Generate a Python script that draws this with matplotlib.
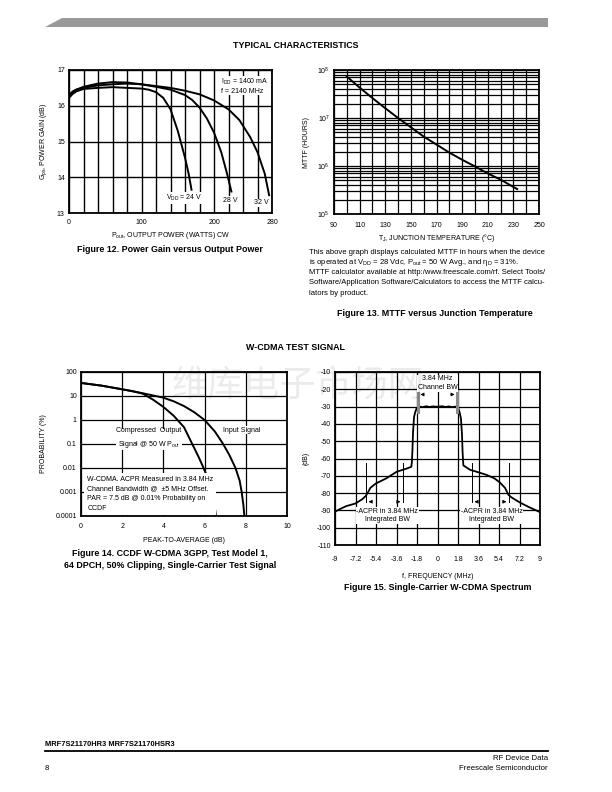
import numpy as np
import matplotlib.pyplot as plt
from matplotlib.patches import Polygon
from matplotlib.lines import Line2D
from matplotlib.ticker import MultipleLocator, FixedLocator

plt.rcParams['font.family'] = ['Liberation Sans Narrow', 'Liberation Sans', 'DejaVu Sans']
plt.rcParams['mathtext.fontset'] = 'custom'
plt.rcParams['mathtext.rm'] = 'Liberation Sans'
plt.rcParams['mathtext.default'] = 'regular'
plt.rcParams['axes.unicode_minus'] = False

# Figure 12 - power gain vs output power
p24 = [0, 5, 10, 20, 40, 60, 80, 100, 110, 120, 130, 140, 150, 160, 165, 169]
g24 = [16.22, 16.33, 16.40, 16.47, 16.50, 16.52, 16.50, 16.48, 16.45, 16.38, 16.22, 15.90, 15.30, 14.55, 14.10, 13.65]
p28 = [0, 5, 10, 20, 40, 60, 80, 100, 120, 140, 160, 170, 180, 190, 200, 210, 218, 224]
g28 = [16.25, 16.38, 16.45, 16.53, 16.62, 16.66, 16.65, 16.60, 16.53, 16.45, 16.30, 16.16, 15.95, 15.65, 15.25, 14.70, 14.10, 13.60]
p32 = [0, 5, 10, 20, 40, 60, 80, 100, 120, 140, 160, 180, 200, 220, 235, 250, 260, 270, 276]
g32 = [16.30, 16.40, 16.45, 16.50, 16.57, 16.60, 16.62, 16.60, 16.55, 16.50, 16.42, 16.32, 16.15, 15.90, 15.60, 15.12, 14.70, 14.10, 13.50]

# Figure 13 - MTTF vs junction temperature
tj = [100, 110, 120, 130, 140, 150, 160, 170, 180, 190, 200, 210, 220, 233]
mttf = [7.3e7, 4.3e7, 2.6e7, 1.6e7, 1.0e7, 6.4e6, 4.1e6, 2.8e6, 1.9e6, 1.35e6, 9.8e5, 7.0e5, 5.2e5, 3.3e5]
tj_ticks = [90, 110, 130, 150, 170, 190, 210, 230, 250]

# Figure 14 - CCDF
par_in = [0, 1, 2, 3, 4, 4.5, 5, 5.5, 6, 6.5, 6.9, 7.2, 7.5, 7.7, 7.8, 7.88, 7.93]
prob_in = [35, 27, 19, 13, 8.5, 6, 3.8, 2.1, 1.0, 0.33, 0.1, 0.035, 0.01, 0.003, 0.001, 0.0003, 0.0001]
par_out = [0, 1, 2, 2.5, 3, 3.5, 4, 4.5, 5, 5.4, 5.7, 5.95, 6.2, 6.36, 6.48, 6.55]
prob_out = [35, 27, 19, 16, 12.5, 7, 3.5, 1.5, 0.5, 0.1, 0.03, 0.01, 0.003, 0.001, 0.0003, 0.0001]
prob_ticks = [1e-4, 1e-3, 1e-2, 0.1, 1, 10, 100]
prob_labels = ['0.0001', '0.001', '0.01', '0.1', '1', '10', '100']

# Figure 15 - spectrum
freq = [-9.0, -8.5, -8.0, -7.2, -6.6, -6.3, -6.1, -5.9, -5.6, -5.4, -4.5, -3.6, -2.7, -2.3, -2.25, -2.2, -2.15, -2.06,
        -1.95, -1.83, -1.62, -1.3, -1.0, -0.7, -0.4, 0.0, 0.4, 0.7, 1.0, 1.3, 1.62, 1.83, 1.95, 2.06, 2.15, 2.2, 2.27,
        2.85, 3.6, 4.32, 5.0, 5.5, 5.93, 6.23, 6.5, 7.25, 8.0, 8.5, 9.0]
level = [-90.8, -89.0, -87.5, -86.0, -83.5, -81.7, -79.5, -77.0, -75.4, -74.4, -71.5, -67.7, -65.8, -64.8, -62.0, -55.0,
         -45.0, -36.0, -33.0, -31.0, -30.0, -30.3, -29.8, -30.2, -29.9, -30.1, -29.8, -30.2, -29.9, -30.3, -30.0, -31.0,
         -33.5, -37.0, -46.0, -56.0, -64.0, -66.5, -68.0, -69.5, -71.5, -74.0, -77.0, -81.0, -82.5, -85.5, -88.0, -89.5, -91.0]
freq_ticks = [-9, -7.2, -5.4, -3.6, -1.8, 0, 1.8, 3.6, 5.4, 7.2, 9]
freq_labels = ['-9', '-7.2', '-5.4', '-3.6', '-1.8', '0', '1.8', '3.6', '5.4', '7.2', '9']
chan_edges = [-1.75, 1.75]
acpr_edges = [-6.3, -3.0, 3.0, 6.3]

W, H = 612, 792
fig = plt.figure(figsize=(W / 100, H / 100), dpi=100)


def box(x0, y0, x1, y1):
    return [x0 / W, 1 - y1 / H, (x1 - x0) / W, (y1 - y0) / H]


def ptext(x, y, s, **kw):
    kw.setdefault('ha', 'center')
    kw.setdefault('va', 'center')
    fig.text(x / W, 1 - y / H, s, **kw)


def style(ax, xpad=3):
    for sp in ax.spines.values():
        sp.set_linewidth(1.3)
    ax.tick_params(which='both', length=0, labelsize=5, pad=3)
    ax.tick_params(axis='x', pad=xpad)
    ax.set_axisbelow(True)


wb = dict(fc='white', ec='none', pad=0.6)
cap = dict(fontsize=6.4, fontweight='bold', family=['Liberation Sans', 'DejaVu Sans'])

# page decorations
fig.patches.append(Polygon([[45 / W, 1 - 27 / H], [62 / W, 1 - 18 / H], [548 / W, 1 - 18 / H], [548 / W, 1 - 27 / H]],
                           closed=True, fc='#999999', ec='none', transform=fig.transFigure))
ptext(296, 46, 'TYPICAL CHARACTERISTICS', **cap)
ptext(296, 347, 'W-CDMA TEST SIGNAL', **cap)
ptext(298, 386, '维库电子市场网', fontsize=26, color='black', alpha=0.08,
      family=['Noto Sans CJK SC', 'DejaVu Sans'], fontweight='light')

# ---- Figure 12
ax = fig.add_axes(box(69, 70, 272, 213))
style(ax, xpad=4)
ax.plot(p24, g24, 'k', lw=1.4)
ax.plot(p28, g28, 'k', lw=1.4)
ax.plot(p32, g32, 'k', lw=1.4)
ax.set_xlim(0, 280)
ax.set_ylim(13, 17)
ax.xaxis.set_major_locator(FixedLocator([0, 100, 200, 280]))
ax.xaxis.set_minor_locator(MultipleLocator(20))
ax.yaxis.set_major_locator(MultipleLocator(1))
ax.grid(which='both', axis='x', color='black', lw=1.0)
ax.grid(which='major', axis='y', color='black', lw=1.0)
ax.text(209, 16.67, 'I$_{DD}$ = 1400 mA', fontsize=5, va='center', bbox=wb)
ax.text(209, 16.41, 'f = 2140 MHz', fontsize=5, va='center', bbox=wb)
ax.text(159, 13.42, 'V$_{DD}$ = 24 V', fontsize=5, ha='center', va='center', bbox=wb)
ax.text(222, 13.36, '28 V', fontsize=5, ha='center', va='center', bbox=wb)
ax.text(265, 13.28, '32 V', fontsize=5, ha='center', va='center', bbox=wb)
ax.set_xlabel('P$_{out}$, OUTPUT POWER (WATTS) CW', fontsize=5, labelpad=3)
ax.set_ylabel('G$_{ps}$, POWER GAIN (dB)', fontsize=5, labelpad=6)
ptext(170, 249, 'Figure 12. Power Gain versus Output Power', **cap)

# ---- Figure 13
ax = fig.add_axes(box(334, 70, 539, 214))
style(ax, xpad=6)
ax.semilogy(tj, mttf, 'k', lw=1.4)
ax.set_xlim(90, 250)
ax.set_ylim(1e5, 1e8)
ax.xaxis.set_major_locator(FixedLocator(tj_ticks))
ax.xaxis.set_minor_locator(MultipleLocator(10))
ax.grid(which='both', color='black', lw=0.9)
ax.set_xlabel('T$_J$, JUNCTION TEMPERATURE (°C)', fontsize=5, labelpad=2)
ax.set_ylabel('MTTF (HOURS)', fontsize=5, labelpad=5)
notes = ['This above graph displays calculated MTTF in hours when the device',
         'is operated at V$_{DD}$ = 28 Vdc, P$_{out}$ = 50 W Avg., and η$_D$ = 31%.',
         'MTTF calculator available at http:/www.freescale.com/rf. Select Tools/',
         'Software/Application Software/Calculators to access the MTTF calcu-',
         'lators by product.']
for s, yy in zip(notes, [252, 262, 273, 283, 293]):
    ptext(309, yy, s, fontsize=5.5, ha='left')
ptext(435, 313, 'Figure 13. MTTF versus Junction Temperature', **cap)

# ---- Figure 14
ax = fig.add_axes(box(81, 372, 287, 516))
style(ax, xpad=5)
ax.semilogy(par_in, prob_in, 'k', lw=1.4)
ax.semilogy(par_out, prob_out, 'k', lw=1.4)
ax.set_xlim(0, 10)
ax.set_ylim(1e-4, 100)
ax.xaxis.set_major_locator(MultipleLocator(2))
ax.set_yticks(prob_ticks, prob_labels)
ax.yaxis.set_minor_locator(FixedLocator([]))
ax.grid(which='major', color='black', lw=0.9)
ax.text(3.3, 0.17, 'Compressed  Output\nSignal @ 50 W P$_{out}$', fontsize=5, ha='center', va='center',
        linespacing=1.6, bbox=wb)
ax.text(7.8, 0.38, 'Input Signal', fontsize=5, ha='center', va='center', bbox=wb)
ax.text(0.3, 0.00082, 'W-CDMA. ACPR Measured in 3.84 MHz\nChannel Bandwidth @  ±5 MHz Offset.\n'
        'PAR = 7.5 dB @ 0.01% Probability on\nCCDF', fontsize=5, ha='left', va='center',
        linespacing=1.55, bbox=dict(fc='white', ec='none', pad=2))
ax.set_xlabel('PEAK-TO-AVERAGE (dB)', fontsize=5, labelpad=5)
ax.set_ylabel('PROBABILITY (%)', fontsize=5, labelpad=6)
ptext(170, 553, 'Figure 14. CCDF W-CDMA 3GPP, Test Model 1,', **cap)
ptext(170, 565, '64 DPCH, 50% Clipping, Single-Carrier Test Signal', **cap)

# ---- Figure 15
ax = fig.add_axes(box(335, 372, 540, 545))
style(ax, xpad=8)
ax.plot(freq, level, 'k', lw=1.3)
ax.set_xlim(-9, 9)
ax.set_ylim(-110, -10)
ax.set_xticks(freq_ticks, freq_labels)
ax.yaxis.set_major_locator(MultipleLocator(10))
ax.grid(which='major', color='black', lw=0.9)
for xe in chan_edges:
    ax.plot([xe, xe], [-21, -33], color='#8a8a8a', lw=2.2)
    ax.annotate('', xy=(xe, -23), xytext=(xe * 0.55, -23),
                arrowprops=dict(arrowstyle='-|>', lw=0.6, color='black', mutation_scale=5))
ax.text(0, -16.5, '3.84 MHz\nChannel BW', fontsize=5, ha='center', va='center', linespacing=1.3, bbox=wb)
for i, xe in enumerate(acpr_edges):
    ax.plot([xe, xe], [-62.5, -85], 'k', lw=0.7)
    inward = 0.7 if i % 2 == 0 else -0.7
    ax.annotate('', xy=(xe, -85), xytext=(xe + inward, -85),
                arrowprops=dict(arrowstyle='-|>', lw=0.6, color='black', mutation_scale=5))
ax.text(-4.4, -93, '-ACPR in 3.84 MHz\nIntegrated BW', fontsize=5, ha='center', va='center', linespacing=1.3, bbox=wb)
ax.text(4.75, -93, '-ACPR in 3.84 MHz\nIntegrated BW', fontsize=5, ha='center', va='center', linespacing=1.3, bbox=wb)
ax.set_xlabel('f, FREQUENCY (MHz)', fontsize=5, labelpad=7)
ax.set_ylabel('(dB)', fontsize=5, labelpad=5)
ptext(438, 588, 'Figure 15. Single-Carrier W-CDMA Spectrum', **cap)

# footer
fig.lines.append(Line2D([45 / W, 548 / W], [1 - 751 / H, 1 - 751 / H], color='black', lw=1.3,
                        transform=fig.transFigure))
ptext(45, 744, 'MRF7S21170HR3 MRF7S21170HSR3', ha='left', fontsize=5.4, fontweight='bold',
      family=['Liberation Sans', 'DejaVu Sans'])
ptext(548, 759, 'RF Device Data', ha='right', fontsize=5.6, family=['Liberation Sans', 'DejaVu Sans'])
ptext(548, 769, 'Freescale Semiconductor', ha='right', fontsize=5.6, family=['Liberation Sans', 'DejaVu Sans'])
ptext(45, 769, '8', ha='left', fontsize=5.6, family=['Liberation Sans', 'DejaVu Sans'])

fig.savefig('out.png', dpi=100)
